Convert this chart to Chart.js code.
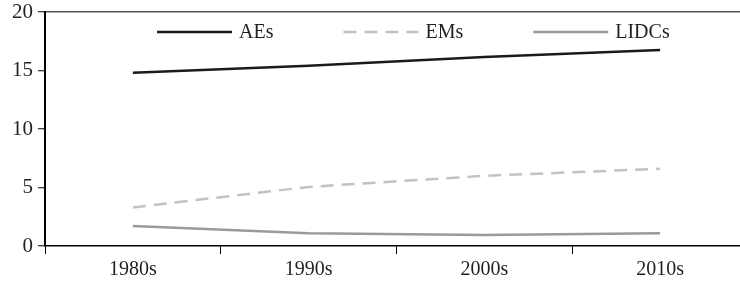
<!DOCTYPE html>
<html>
<head>
<meta charset="utf-8">
<script src="https://cdn.jsdelivr.net/npm/chart.js@4/dist/chart.umd.min.js"></script>
<style>
  html, body { margin: 0; padding: 0; background: #fff; overflow: hidden; }
  #outer { width: 740px; height: 283px; overflow: hidden; }
  #wrap { width: 748px; height: 283px; position: relative; }
</style>
</head>
<body>
<div id="outer"><div id="wrap"><canvas id="decades_chart"></canvas></div></div>
<script>
const decades = ["1980s", "1990s", "2000s", "2010s"];
const aes_values = [14.8, 15.4, 16.15, 16.75];
const ems_values = [3.3, 5.05, 6.0, 6.6];
const lidcs_values = [1.7, 1.1, 0.95, 1.1];
const series_labels = ["AEs", "EMs", "LIDCs"];
const y_ticks = [0, 5, 10, 15, 20];

const font_family = "'Liberation Serif', 'Times New Roman', serif";
const text_colour = "#231f20";

// legend sits inside the plot, just under the top border
const insideLegend = {
  id: "insideLegend",
  afterDatasetsDraw(chart) {
    const ctx = chart.ctx;
    const area = chart.chartArea;
    let x = area.left + 112;
    const y = area.top + 20;
    ctx.save();
    ctx.font = "20px " + font_family;
    ctx.textBaseline = "middle";
    chart.data.datasets.forEach((ds) => {
      ctx.beginPath();
      ctx.strokeStyle = ds.borderColor;
      ctx.lineWidth = ds.borderWidth;
      ctx.setLineDash(ds.borderDash || []);
      ctx.moveTo(x, y);
      ctx.lineTo(x + 75, y);
      ctx.stroke();
      ctx.setLineDash([]);
      ctx.fillStyle = text_colour;
      ctx.fillText(ds.label, x + 82, y + 1);
      x += 82 + ctx.measureText(ds.label).width + 70;
    });
    ctx.restore();
  }
};

const line_canvas = document.getElementById("decades_chart");

const config_line = {
  type: "line",
  data: {
    labels: decades,
    datasets: [
      {
        label: series_labels[0],
        data: aes_values,
        borderColor: "#1a1a1a",
        backgroundColor: "#1a1a1a",
        borderWidth: 2.5,
        pointRadius: 0,
        tension: 0
      },
      {
        label: series_labels[1],
        data: ems_values,
        borderColor: "#c2c2c6",
        backgroundColor: "#c2c2c6",
        borderWidth: 2.5,
        borderDash: [13, 8],
        pointRadius: 0,
        tension: 0
      },
      {
        label: series_labels[2],
        data: lidcs_values,
        borderColor: "#9a9a9c",
        backgroundColor: "#9a9a9c",
        borderWidth: 2.5,
        pointRadius: 0,
        tension: 0
      }
    ]
  },
  options: {
    responsive: true,
    maintainAspectRatio: false,
    animation: false,
    layout: {
      padding: { left: 0, right: 0, top: 12, bottom: 0 }
    },
    scales: {
      x: {
        offset: true,
        grid: {
          offset: true,
          drawOnChartArea: false,
          tickLength: 8,
          tickColor: "#000",
          tickWidth: 1
        },
        border: { color: "#000", width: 1.5 },
        ticks: {
          color: text_colour,
          padding: 4,
          maxRotation: 0,
          font: { family: font_family, size: 20 }
        },
        afterFit: (scale) => {
          scale.height = 37;
          scale.paddingLeft = 0;
          scale.paddingRight = 0;
        }
      },
      y: {
        min: 0,
        max: 20,
        afterBuildTicks: (scale) => {
          scale.ticks = y_ticks.map((v) => ({ value: v }));
        },
        grid: {
          drawOnChartArea: true,
          color: (c) => (c.tick && c.tick.value === 20 ? "#555" : "rgba(0,0,0,0)"),
          lineWidth: 1.5,
          tickColor: "#000",
          tickLength: 7,
          tickWidth: 1
        },
        border: { color: "#000", width: 2 },
        ticks: {
          color: text_colour,
          padding: 5,
          font: { family: font_family, size: 21 }
        },
        afterFit: (scale) => {
          scale.width = 45;
          scale.paddingTop = 0;
          scale.paddingBottom = 0;
        }
      }
    },
    plugins: {
      legend: { display: false },
      tooltip: { enabled: false }
    }
  },
  plugins: [insideLegend]
};

new Chart(line_canvas.getContext("2d"), config_line);
</script>
</body>
</html>
